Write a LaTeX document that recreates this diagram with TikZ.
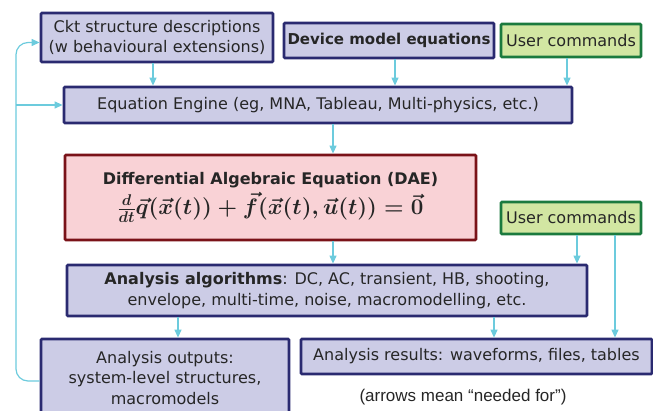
\documentclass[tikz,border=0pt]{standalone}
\usepackage{fontspec}
\setmainfont{DejaVu Sans}
\newfontfamily\notefont{Liberation Sans}
\usetikzlibrary{arrows.meta}
\definecolor{navy}{HTML}{2A2A70}
\definecolor{lav}{HTML}{CCCCE6}
\definecolor{dred}{HTML}{7A1218}
\definecolor{pinkf}{HTML}{F9D2D6}
\definecolor{dgreen}{HTML}{1B7A3E}
\definecolor{lgreen}{HTML}{D2E6A2}
\definecolor{cyanl}{HTML}{6CCBDD}
\tikzset{
  blue box/.style={draw=navy, fill=lav, line width=2.8pt, rounded corners=1pt, inner sep=0pt, align=center, text=black!85, font={\fontsize{16}{20.5}\selectfont}},
  green box/.style={draw=dgreen, fill=lgreen, line width=2.8pt, rounded corners=1pt, inner sep=0pt, align=center, text=black!85, font={\fontsize{16}{20}\selectfont}},
  red box/.style={draw=dred, fill=pinkf, line width=2.8pt, rounded corners=1pt, inner sep=0pt, align=center, text=black!85},
  arr/.style={draw=cyanl, line width=1.2pt, -{Triangle[length=8pt,width=7pt]}},
}
\begin{document}
\begin{tikzpicture}[x=1pt,y=-1pt]
\useasboundingbox (0,0) rectangle (653,411);
\node[blue box, minimum width=232pt, minimum height=49pt] (ckt) at (157,37.5) {Ckt structure descriptions\\(w behavioural extensions)};
\node[blue box, minimum width=210pt, minimum height=35pt, font={\fontsize{15}{18}\selectfont\bfseries}] (dev) at (389,40.5) {Device model equations};
\node[green box, minimum width=140pt, minimum height=33pt] (uc1) at (571,40.5) {User commands};
\node[blue box, minimum width=508pt, minimum height=36pt] (ee) at (318,105) {Equation Engine (eg, MNA, Tableau, Multi-physics, etc.)};
\node[red box, minimum width=411pt, minimum height=85pt] (dae) at (270.5,197.5) {{\fontsize{16}{18}\selectfont\bfseries Differential Algebraic Equation (DAE)}\\[4pt]
  {\fontsize{23}{25}\selectfont\boldmath\scalebox{0.9}{$\frac{d}{dt}\vec{q}(\vec{x}(t))+\vec{f}(\vec{x}(t),\vec{u}(t))=\vec{0}$}}};
\node[green box, minimum width=140pt, minimum height=32pt] (uc2) at (571,218) {User commands};
\node[blue box, minimum width=520pt, minimum height=51pt] (aa) at (327,290.5) {\textbf{Analysis algorithms}: DC, AC, transient, HB, shooting,\\envelope, multi-time, noise, macromodelling, etc.};
\node[blue box, minimum width=248pt, minimum height=78pt] (ao) at (165,378) {Analysis outputs:\\system-level structures,\\macromodels};
\node[blue box, minimum width=351pt, minimum height=35pt] (ar) at (476.5,356.5) {Analysis results: waveforms, files, tables};
\node[text=black!85, font={\notefont\fontsize{17}{19}\selectfont}] (note) at (463,397) {(arrows mean “needed for”)};
\coordinate (fb) at (16,0);
\coordinate (aoin) at ([yshift=-3pt]ao.west);
\coordinate (cktin) at ([yshift=-5pt]ckt.west);
\draw[arr] ([xshift=-4pt]ckt.south) -- ([xshift=-4pt]ckt.south |- ee.north);
\draw[arr] ([xshift=6pt]dev.south) -- ([xshift=6pt]dev.south |- ee.north);
\draw[arr] ([xshift=-4pt]uc1.south) -- ([xshift=-4pt]uc1.south |- ee.north);
\draw[arr] ([xshift=15pt]ee.south) -- ([xshift=15pt]ee.south |- dae.north);
\draw[arr] ([xshift=62.5pt]dae.south) -- ([xshift=62.5pt]dae.south |- aa.north);
\draw[arr] ([xshift=6pt]uc2.south) -- ([xshift=6pt]uc2.south |- aa.north);
\draw[arr] ([xshift=44pt]uc2.south) -- ([xshift=44pt]uc2.south |- ar.north);
\draw[arr] ([xshift=-149pt]aa.south) -- ([xshift=-149pt]aa.south |- ao.north);
\draw[arr] ([xshift=167pt]aa.south) -- ([xshift=167pt]aa.south |- ar.north);
\draw[arr, rounded corners=12pt] (aoin) -- (fb |- aoin) -- (fb |- cktin) -- (cktin);
\draw[arr] (fb |- ee.west) -- (ee.west);
\end{tikzpicture}
\end{document}
